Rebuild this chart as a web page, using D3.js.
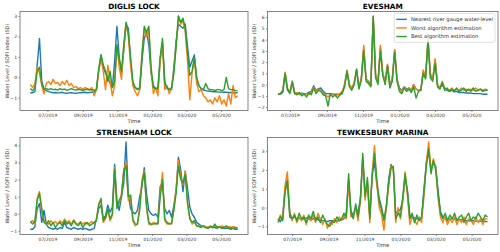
<!DOCTYPE html>
<html>
<head>
<meta charset="utf-8">
<script src="https://cdn.jsdelivr.net/npm/d3@7"></script>
<style>
  body { margin: 0; background: #fff; }
  svg { display: block; font-family: "DejaVu Sans", sans-serif; }
</style>
</head>
<body>
<div id="chart"></div>
<script>
// station names, start dates, legend labels
const stationNames = ["DIGLIS LOCK", "EVESHAM", "STRENSHAM LOCK", "TEWKESBURY MARINA"];
const startDates = ["2019-06-01", "2019-06-11", "2019-06-01", "2019-06-07"];
const seriesNames = ["Nearest river gauge water-level", "Worst algorithm estimation", "Best algorithm estimation"];
const stepDays = 4;

// DIGLIS LOCK
const diglisNearest = [-0.75,-0.75,-0.7,0.6,1.9,-0.2,-0.55,-0.65,-0.7,-0.72,
  -0.75,-0.74,-0.76,-0.75,-0.73,-0.77,-0.78,-0.76,-0.75,-0.77,
  -0.78,-0.76,-0.75,-0.74,-0.73,-0.75,-0.74,-0.72,-0.73,-0.6,
  0.3,1.1,0.5,0.2,0.0,-0.3,-0.5,0.8,2.5,1.0,
  0.2,1.3,2.6,2.4,0.8,-0.3,-0.5,-0.55,-0.6,0.8,
  1.9,2.2,1.6,0.2,-0.4,-0.55,-0.6,0.9,1.7,-0.2,
  -0.55,-0.6,-0.6,0.5,1.8,2.6,2.5,2.4,2.6,1.5,
  0.5,0.8,1.1,-0.1,-0.4,-0.55,-0.62,-0.65,-0.67,-0.68,
  -0.7,-0.7,-0.71,-0.72,-0.72,-0.73,-0.73,-0.74,-0.74,-0.75,
  -0.75,-0.75];
const diglisWorst = [-0.35,-0.5,-0.3,0.5,0.2,-0.4,-0.8,-0.3,-0.2,-0.35,
  -0.1,-0.3,-0.25,-0.4,-0.2,-0.35,-0.15,-0.4,-0.3,-0.5,
  -0.45,-0.55,-0.5,-0.6,-0.5,-0.55,-0.6,-0.5,-0.9,-0.6,
  0.3,0.9,0.3,-0.6,0.6,-0.2,-0.9,-0.4,1.5,0.5,
  -0.1,1.4,2.6,2.0,0.6,-0.4,-0.7,-0.9,-0.6,1.2,
  2.4,2.0,2.3,0.3,-0.8,-0.5,-0.9,0.8,1.6,-0.6,
  -0.4,-0.8,-0.5,0.3,1.6,3.0,2.6,2.8,2.2,0.8,
  -1.1,0.2,0.9,-0.3,-0.7,-0.6,-0.9,-1.0,-1.2,-1.1,
  -1.3,-1.0,-1.2,-0.9,-1.3,-1.1,-1.4,-0.8,-1.3,-0.4,
  -1.0,-0.9];
const diglisBest = [-0.55,-0.65,-0.5,0.3,0.5,-0.3,-0.6,-0.55,-0.6,-0.55,
  -0.6,-0.58,-0.62,-0.55,-0.6,-0.57,-0.63,-0.6,-0.55,-0.6,
  -0.62,-0.58,-0.6,-0.65,-0.6,-0.58,-0.62,-0.6,-0.63,-0.6,
  0.4,1.1,0.6,0.3,-0.2,0.3,-0.5,-0.2,1.6,0.9,
  0.3,1.6,2.7,2.2,1.0,-0.2,-0.5,-0.6,-0.5,1.0,
  2.5,2.2,2.5,0.5,-0.5,-0.55,-0.5,1.0,1.9,-0.3,
  -0.5,-0.6,-0.5,0.2,1.5,3.0,2.7,2.9,2.4,1.2,
  0.1,0.3,1.0,0.0,-0.4,-0.55,-0.6,-0.3,-0.55,-0.6,
  -0.6,-0.65,-0.6,-0.6,-0.65,-0.6,0.0,-0.55,-0.6,-0.6,
  -0.65,-0.65];

// EVESHAM
const eveshamNearest = [-0.85,-0.85,-0.7,0.9,-0.5,-0.7,0.3,-0.7,-0.8,-0.8,
  -0.75,-0.8,-0.8,-0.7,-0.6,-0.1,-0.5,-0.35,-0.3,-0.6,
  -0.8,-0.8,-0.8,-0.85,-0.85,-0.85,-0.9,-0.8,0.0,1.2,
  0.0,-0.3,0.1,1.3,-0.2,0.5,3.3,0.5,0.3,0.0,
  6.0,0.8,0.3,3.3,1.0,0.3,1.8,0.0,0.5,3.1,
  0.5,-0.3,-0.5,-0.2,-0.4,-0.3,-0.5,0.0,-0.4,-0.5,
  -0.5,1.2,0.7,4.0,0.8,0.5,2.2,0.0,-0.3,0.0,
  -0.4,-0.5,-0.6,-0.5,-0.65,-0.6,-0.7,-0.7,-0.7,-0.75,
  -0.75,-0.75,-0.8,-0.8,-0.8,-0.8,-0.85,-0.85,-0.85];
const eveshamWorst = [-0.85,-0.8,-0.5,1.1,-0.3,-0.7,0.3,-0.8,-0.7,-0.9,
  -0.8,-0.9,-0.8,-0.9,-0.7,-0.2,-0.6,-0.4,-0.5,-0.8,
  -0.9,-1.1,-0.9,-0.8,-1.0,-0.9,-0.8,-0.6,0.1,1.3,
  0.0,-0.3,0.2,1.3,-0.3,0.6,3.5,0.5,0.2,-0.1,
  6.0,0.9,0.2,3.5,1.0,0.2,1.8,-0.2,0.5,3.1,
  0.4,-0.4,-0.6,-0.2,-0.5,-0.3,-0.5,0.0,-0.4,-0.5,
  -0.4,1.3,0.7,4.1,1.0,0.5,2.3,0.0,-0.3,0.3,
  -0.3,-0.4,-0.5,-0.3,-0.5,-0.4,-0.5,-0.3,-0.5,-0.4,
  -0.5,-0.4,-0.5,-0.3,-0.5,-0.4,-0.5,-0.4,-0.45];
const eveshamBest = [-0.85,-0.8,-0.6,1.0,-0.4,-0.8,0.2,-0.8,-0.9,-0.7,
  -1.0,-0.8,-1.1,-0.7,-0.9,-0.3,-0.8,-0.5,-0.6,-0.9,
  -1.0,-1.9,-0.8,-1.1,-0.9,-1.2,-0.9,-0.7,-0.2,1.2,
  -0.2,-0.5,0.0,1.4,-0.4,0.4,3.0,0.3,0.1,-0.2,
  6.1,0.6,0.0,3.0,0.8,0.0,1.6,-0.3,0.3,2.9,
  0.3,-0.6,-0.8,-0.3,-0.6,-0.4,-0.7,-0.2,-1.2,-0.6,
  -0.5,1.0,0.5,3.9,0.6,0.3,1.9,-0.2,-0.4,0.2,
  -0.5,-0.3,-0.6,-0.4,-0.6,-0.3,-0.6,-0.5,-0.3,-0.6,
  -0.4,-0.6,-0.3,-0.6,-0.5,-0.4,-0.6,-0.5,-0.5];

// STRENSHAM LOCK
const strenshamNearest = [-0.9,-0.9,-0.75,0.3,0.6,-0.5,0.2,-0.6,-0.8,-0.85,
  -0.9,-0.85,-0.9,-0.8,-0.85,-0.5,-0.8,-0.85,-0.9,-0.8,
  -0.85,-0.9,-0.85,-0.9,-0.85,-0.9,-0.95,-0.9,-0.85,-0.3,
  0.3,0.5,-0.3,-0.1,0.5,0.1,0.4,2.9,0.8,0.2,
  1.0,1.8,4.2,1.2,0.3,0.1,0.0,0.2,1.0,1.6,
  2.7,1.2,0.2,0.0,-0.1,0.0,-0.2,1.6,1.8,0.3,
  0.0,0.2,-0.2,0.5,1.4,3.3,2.6,1.3,2.5,1.5,
  0.4,0.0,-0.2,-0.5,-0.6,-0.7,-0.75,-0.8,-0.8,-0.75,
  -0.8,-0.8,-0.85,-0.75,-0.8,-0.85,-0.85,-0.85,-0.9,-0.85,
  -0.9,-0.9];
const strenshamWorst = [-0.5,-0.4,-0.6,0.9,1.3,0.1,-0.4,-0.5,-0.6,-0.4,
  -0.55,-0.45,-0.6,-0.4,-0.55,-0.3,-0.5,-0.4,-0.6,-0.35,
  -0.55,-0.6,-0.45,-0.6,-0.5,-0.6,-0.55,-0.45,-0.6,-0.3,
  0.6,0.8,-0.5,-0.3,0.2,-0.4,-0.1,2.7,0.4,0.6,
  1.2,2.6,3.0,0.8,1.0,-0.4,-0.7,-0.6,0.4,2.0,
  2.5,0.3,-0.6,-0.65,-0.5,-0.6,-0.55,1.2,2.4,-0.4,
  -0.6,-0.55,-0.6,0.3,1.5,3.1,2.2,1.7,2.5,0.7,
  -0.2,-0.6,-0.5,-0.7,-0.7,-0.75,-0.7,-0.75,-0.8,-0.7,
  -0.75,-0.7,-0.75,-0.8,-0.7,-0.75,-0.8,-0.75,-0.8,-0.75,
  -0.8,-0.85];
const strenshamBest = [-0.45,-0.6,-0.4,0.8,1.2,0.3,-0.5,-0.6,-0.4,-0.7,
  -0.5,-0.8,-0.6,-0.5,-0.7,-0.4,-0.6,-0.5,-0.7,-0.4,
  -0.6,-0.7,-0.5,-0.8,-0.6,-0.5,-0.7,-0.6,-0.5,-0.4,
  0.5,0.9,-0.4,-0.2,0.3,-0.3,0.0,2.6,0.3,0.8,
  1.0,2.5,2.8,1.0,1.1,-0.3,-0.6,-0.6,0.2,1.8,
  2.4,0.5,-0.5,-0.6,-0.6,-0.55,-0.6,1.0,2.0,-0.3,
  -0.5,-0.6,-0.55,0.2,1.2,2.8,2.0,1.8,2.3,0.6,
  -0.3,-0.5,-0.4,-0.7,-0.75,-0.8,-0.7,-0.8,-0.85,-0.75,
  -0.8,-0.6,-0.8,-0.75,-0.85,-0.8,-0.7,-0.85,-0.8,-0.85,
  -0.8,-0.85];

// TEWKESBURY MARINA
const tewkesburyNearest = [-0.6,-0.75,-0.5,1.0,1.5,-0.5,-0.6,-0.5,-0.6,-0.55,
  -0.65,-0.6,-0.55,-0.6,-0.65,-0.6,-0.55,-0.65,-0.7,-0.7,
  -0.7,-0.75,-0.7,-0.7,-0.7,-0.7,-0.7,-0.65,-0.6,-0.3,
  1.5,-0.2,-0.4,0.0,-0.3,0.5,2.5,0.8,1.2,-0.5,
  1.8,2.4,1.2,0.5,0.0,-0.6,-0.1,1.5,2.3,2.0,
  -0.3,-0.2,-0.1,0.4,1.6,0.9,-0.4,-0.5,-0.55,-0.6,
  -0.6,-0.55,1.0,2.4,3.0,2.0,2.4,2.2,0.9,-0.2,
  -0.5,-0.55,-0.6,-0.6,-0.6,-0.62,-0.65,-0.65,-0.65,-0.68,
  -0.7,-0.7,-0.7,-0.7,-0.72,-0.72,-0.72,-0.75,-0.75,-0.75];
const tewkesburyWorst = [-0.7,-0.4,-0.6,1.2,1.9,-0.2,-0.7,-0.3,-0.8,-0.5,
  -0.7,-0.4,-0.9,-0.5,-0.7,-0.4,-0.8,-0.3,-0.6,-0.9,
  -0.6,-1.1,-0.8,-0.9,-0.6,-0.8,-0.5,-0.7,-0.4,-0.6,
  1.3,-0.5,-0.4,0.0,-0.7,0.3,2.7,0.4,1.4,-0.8,
  1.9,3.3,1.2,0.0,-0.4,-1.2,0.0,1.1,2.2,2.0,
  -0.8,0.0,-0.6,0.3,1.9,0.6,-0.9,-0.5,-0.7,-0.9,
  -0.5,-0.8,0.6,2.4,3.5,2.0,2.6,2.1,0.5,-0.5,
  -0.8,-0.5,-0.9,-0.6,-0.8,-0.5,-0.9,-0.6,-0.8,-0.5,
  -0.9,-0.6,-0.7,-0.9,-0.5,-0.8,-0.6,-0.9,-0.6,-0.6];
const tewkesburyBest = [-0.8,-0.5,-0.7,0.8,1.4,-0.3,-0.6,-0.4,-0.7,-0.3,
  -0.6,-0.5,-0.8,-0.4,-0.6,-0.2,-0.7,-0.5,-0.8,-0.4,
  -0.7,-0.9,-1.0,-0.7,-0.8,-0.5,-0.7,-0.6,-0.3,-0.5,
  1.8,-0.3,-0.6,0.2,-0.5,0.4,2.9,0.6,1.6,-0.6,
  1.6,2.9,1.5,0.3,-0.1,-0.7,0.1,1.3,2.1,2.2,
  -0.6,-0.3,-0.5,0.6,1.8,0.8,-0.6,-0.3,-0.8,-0.4,
  -0.7,-0.5,0.8,2.2,3.1,1.8,2.5,2.0,0.7,-0.3,
  -0.6,-0.3,-0.7,-0.4,-0.6,-0.3,-0.7,-0.5,-0.4,-0.8,
  -0.5,-0.3,-0.7,-0.5,-0.6,-0.3,-0.5,-0.7,-0.4,-0.5];

const colors = ["#1f77b4", "#ff7f0e", "#2ca02c"];

const width = 500;
const height = 252;

const panels = [
  {name: stationNames[0], start: startDates[0], series: [diglisNearest, diglisWorst, diglisBest],
   box: {left: 20, right: 248, top: 11.5, bottom: 110.5}},
  {name: stationNames[1], start: startDates[1], series: [eveshamNearest, eveshamWorst, eveshamBest],
   box: {left: 267.5, right: 498, top: 11.5, bottom: 110.5}, legend: true},
  {name: stationNames[2], start: startDates[2], series: [strenshamNearest, strenshamWorst, strenshamBest],
   box: {left: 20, right: 248, top: 137.5, bottom: 234.5}},
  {name: stationNames[3], start: startDates[3], series: [tewkesburyNearest, tewkesburyWorst, tewkesburyBest],
   box: {left: 267.5, right: 498, top: 137.5, bottom: 234.5}}
];

const canvas = d3.select("#chart")
  .append("svg")
  .attr("width", width)
  .attr("height", height);

const parseDate = d3.timeParse("%Y-%m-%d");

panels.forEach(function(p, pi) {
  const b = p.box;
  const start = parseDate(p.start);
  const n = p.series[0].length;
  const dates = d3.range(n).map(i => d3.timeDay.offset(start, i * stepDays));

  // matplotlib-style 5% margins
  const t0 = +dates[0], t1 = +dates[n - 1];
  const tPad = (t1 - t0) * 0.05;
  const xScale = d3.scaleTime()
    .domain([new Date(t0 - tPad), new Date(t1 + tPad)])
    .range([b.left, b.right]);

  const allVals = d3.merge(p.series);
  const vMin = d3.min(allVals), vMax = d3.max(allVals);
  const vPad = (vMax - vMin) * 0.05;
  const yScale = d3.scaleLinear()
    .domain([vMin - vPad, vMax + vPad])
    .range([b.bottom, b.top]);

  const g = canvas.append("g").attr("class", "panel");

  const clipId = "clip" + pi;
  g.append("clipPath").attr("id", clipId)
    .append("rect")
      .attr("x", b.left).attr("y", b.top)
      .attr("width", b.right - b.left).attr("height", b.bottom - b.top);

  const line = d3.line()
    .x((d, i) => xScale(dates[i]))
    .y(d => yScale(d));

  const lines = g.append("g").attr("clip-path", `url(#${clipId})`);
  p.series.forEach(function(vals, si) {
    lines.append("path")
      .datum(vals)
      .attr("d", line)
      .attr("fill", "none")
      .attr("stroke", colors[si])
      .attr("stroke-width", 1.4)
      .attr("stroke-linejoin", "round");
  });

  // axes
  const xAxis = g.append("g")
    .attr("transform", `translate(0, ${b.bottom})`)
    .call(d3.axisBottom(xScale)
      .ticks(d3.timeMonth.every(2))
      .tickFormat(d3.timeFormat("%m/%Y"))
      .tickSize(1.5)
      .tickPadding(1.5));

  const yTicks = d3.range(Math.ceil(yScale.domain()[0]), Math.floor(yScale.domain()[1]) + 1);
  const yAxis = g.append("g")
    .attr("transform", `translate(${b.left}, 0)`)
    .call(d3.axisLeft(yScale)
      .tickValues(yTicks)
      .tickFormat(d3.format("d"))
      .tickSize(1.5)
      .tickPadding(1.5));

  [xAxis, yAxis].forEach(function(a) {
    a.select(".domain").remove();
    a.selectAll("line").attr("stroke", "#444").attr("stroke-width", 0.6);
    a.selectAll("text").attr("font-size", 4.5).attr("fill", "#333")
      .attr("font-family", "DejaVu Sans, sans-serif");
  });

  // frame
  g.append("rect")
    .attr("x", b.left).attr("y", b.top)
    .attr("width", b.right - b.left).attr("height", b.bottom - b.top)
    .attr("fill", "none")
    .attr("stroke", "#666")
    .attr("stroke-width", 0.8);

  // title
  g.append("text")
    .attr("x", (b.left + b.right) / 2)
    .attr("y", b.top - 2.5)
    .attr("text-anchor", "middle")
    .attr("font-size", 7.3)
    .attr("font-weight", "bold")
    .attr("fill", "#000")
    .text(p.name);

  // axis labels
  g.append("text")
    .attr("x", (b.left + b.right) / 2)
    .attr("y", b.bottom + 12.7)
    .attr("text-anchor", "middle")
    .attr("font-size", 5.3)
    .attr("fill", "#333")
    .text("Time");

  g.append("text")
    .attr("transform", "rotate(-90)")
    .attr("x", -(b.top + b.bottom) / 2)
    .attr("y", b.left - 11.5)
    .attr("text-anchor", "middle")
    .attr("font-size", 5.1)
    .attr("fill", "#333")
    .text("Water Level / SOFI index (SD)");

  if (p.legend) {
    const fs = 5.2;
    const lg = g.append("g");
    const texts = [];
    const rowH = fs * 1.65;
    seriesNames.forEach(function(name, si) {
      const t = lg.append("text")
        .attr("font-size", fs)
        .attr("fill", "#333")
        .attr("dy", "0.35em")
        .text(name);
      texts.push(t);
    });
    const maxW = d3.max(texts, t => t.node().getComputedTextLength());
    const boxW = fs * 0.4 + fs * 2 + fs * 0.8 + maxW + fs * 0.4;
    const boxH = rowH * 3 + fs * 0.6;
    const bx = b.right - 3 - boxW;
    const by = b.top + 2;
    lg.insert("rect", ":first-child")
      .attr("x", bx).attr("y", by)
      .attr("width", boxW).attr("height", boxH)
      .attr("rx", 1.5)
      .attr("fill", "#fff").attr("fill-opacity", 0.8)
      .attr("stroke", "#ccc").attr("stroke-width", 0.6);
    texts.forEach(function(t, si) {
      const cy = by + fs * 0.3 + rowH * (si + 0.5);
      lg.append("line")
        .attr("x1", bx + fs * 0.4).attr("x2", bx + fs * 2.4)
        .attr("y1", cy).attr("y2", cy)
        .attr("stroke", colors[si]).attr("stroke-width", 1.4);
      t.attr("x", bx + fs * 3.2).attr("y", cy);
    });
  }
});
</script>
</body>
</html>
